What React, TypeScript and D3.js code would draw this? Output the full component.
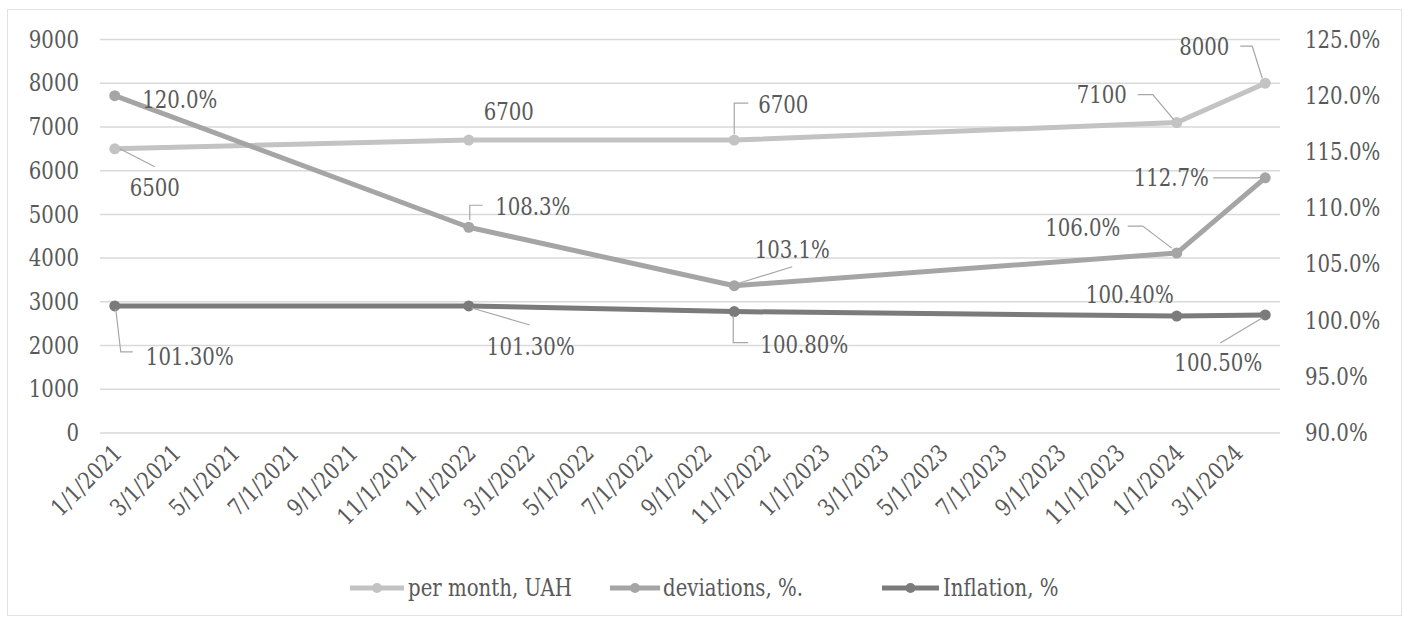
import React from "react";
import * as d3 from "d3";

// Observation dates (month/day/year)
const pointDates = ["1/1/2021", "1/1/2022", "10/1/2022", "1/1/2024", "4/1/2024"];
// Average salary per month, UAH (left axis)
const salary = [6500, 6700, 6700, 7100, 8000];
// Deviations, % (right axis)
const deviations = [120.0, 108.3, 103.1, 106.0, 112.7];
// Inflation, % (right axis)
const inflation = [101.3, 101.3, 100.8, 100.4, 100.5];

const salaryLabels = ["6500", "6700", "6700", "7100", "8000"];
const deviationLabels = ["120.0%", "108.3%", "103.1%", "106.0%", "112.7%"];
const inflationLabels = ["101.30%", "101.30%", "100.80%", "100.40%", "100.50%"];

const leftTicks = [0, 1000, 2000, 3000, 4000, 5000, 6000, 7000, 8000, 9000];
const rightTicks = [90, 95, 100, 105, 110, 115, 120, 125];
const xTickLabels = [
  "1/1/2021", "3/1/2021", "5/1/2021", "7/1/2021", "9/1/2021", "11/1/2021",
  "1/1/2022", "3/1/2022", "5/1/2022", "7/1/2022", "9/1/2022", "11/1/2022",
  "1/1/2023", "3/1/2023", "5/1/2023", "7/1/2023", "9/1/2023", "11/1/2023",
  "1/1/2024", "3/1/2024",
];
const seriesNames = ["per month, UAH", "deviations, %.", "Inflation, %"];

// Data label placement: text centre offset and leader polyline, relative to the point
type LabelPos = { dx: number; dy: number; leader?: [number, number][] };
const salaryLabelPos: LabelPos[] = [
  { dx: 40, dy: 39, leader: [[5, 0], [40, 18]] },
  { dx: 40, dy: -28 },
  { dx: 49, dy: -35, leader: [[0, -6], [0, -37], [14, -37]] },
  { dx: -75, dy: -28, leader: [[-39, -28], [-24, -28], [-3, -3]] },
  { dx: -61, dy: -36, leader: [[-25, -37], [-13, -37], [-3, -5]] },
];
const deviationLabelPos: LabelPos[] = [
  { dx: 65, dy: 4 },
  { dx: 64, dy: -20, leader: [[1, -7], [1, -22], [14, -22]] },
  { dx: 58, dy: -36, leader: [[3, -2], [58, -19]] },
  { dx: -94, dy: -25, leader: [[-49, -27], [-34, -27], [-5, -5]] },
  { dx: -94, dy: 0, leader: [[-52, 0], [-8, 0], [-3, -1]] },
];
const inflationLabelPos: LabelPos[] = [
  { dx: 75, dy: 51, leader: [[1, 3], [6, 46], [18, 46]] },
  { dx: 62, dy: 41, leader: [[3, 2], [61, 19]] },
  { dx: 70, dy: 33, leader: [[-1, 4], [-1, 31], [14, 31]] },
  { dx: -47, dy: -21 },
  { dx: -47, dy: 48, leader: [[-3, 3], [-45, 28]] },
];

const W = 1407;
const H = 619;
const plot = { left: 100, right: 1280, top: 39.5, bottom: 433 };
const FONT = '"DejaVu Serif", "Liberation Serif", serif';
const FS = 23.5;
const SX = 0.84; // horizontal condensing of the serif face
const TEXT = "#595959";
const colors = ["#c3c3c3", "#a5a5a5", "#7b7b7b"];

const parseDate = d3.timeParse("%m/%d/%Y");
const startMonth = parseDate("1/1/2021") as Date;
const endMonth = parseDate("5/1/2024") as Date;
const monthSlots = d3.timeMonth.range(startMonth, endMonth);

const x = d3
  .scaleBand<number>()
  .domain(monthSlots.map((d) => +d))
  .range([plot.left, plot.right])
  .padding(0);
const xc = (s: string) => {
  const d = d3.timeMonth.floor(parseDate(s) as Date);
  return (x(+d) as number) + x.bandwidth() / 2;
};
const yL = d3.scaleLinear().domain([0, 9000]).range([plot.bottom, plot.top]);
const yR = d3.scaleLinear().domain([90, 125]).range([plot.bottom, plot.top]);

type Series = {
  values: number[];
  labels: string[];
  pos: LabelPos[];
  y: (v: number) => number;
  color: string;
};
const series: Series[] = [
  { values: salary, labels: salaryLabels, pos: salaryLabelPos, y: (v) => yL(v), color: colors[0] },
  { values: deviations, labels: deviationLabels, pos: deviationLabelPos, y: (v) => yR(v), color: colors[1] },
  { values: inflation, labels: inflationLabels, pos: inflationLabelPos, y: (v) => yR(v), color: colors[2] },
];

const legendItems = [
  { line: [350, 404], textX: 408 },
  { line: [610, 660], textX: 663 },
  { line: [882, 939], textX: 943 },
];
const legendY = 588;

function Label(props: {
  x: number;
  y: number;
  anchor?: "start" | "middle" | "end";
  rotate?: number;
  children: React.ReactNode;
}) {
  const { x: tx, y: ty, anchor = "start", rotate = 0, children } = props;
  return (
    <text
      transform={`translate(${tx},${ty}) rotate(${rotate}) scale(${SX},1)`}
      textAnchor={anchor}
      dominantBaseline="central"
      fontSize={FS}
      fill={TEXT}
      style={{ fontFamily: FONT }}
    >
      {children}
    </text>
  );
}

export default function App() {
  return (
    <svg
      width={W}
      height={H}
      style={{ position: "absolute", left: 0, top: 0, background: "#fff", fontFamily: FONT }}
    >
      <rect x={7.5} y={9.5} width={1394} height={606} fill="#fff" stroke="#e3e3e3" />

      {/* gridlines */}
      {leftTicks.map((t) => (
        <line
          key={"g" + t}
          x1={plot.left}
          x2={plot.right}
          y1={yL(t)}
          y2={yL(t)}
          stroke="#d9d9d9"
          strokeWidth={1.5}
        />
      ))}

      {/* left axis */}
      {leftTicks.map((t) => (
        <Label key={"l" + t} x={79} y={yL(t)} anchor="end">
          {t}
        </Label>
      ))}

      {/* right axis */}
      {rightTicks.map((t) => (
        <Label key={"r" + t} x={1305} y={yR(t)} anchor="start">
          {d3.format(".1f")(t) + "%"}
        </Label>
      ))}

      {/* x axis labels */}
      {xTickLabels.map((s) => (
        <Label key={"x" + s} x={xc(s) + 3} y={449} anchor="end" rotate={-45}>
          {s}
        </Label>
      ))}

      {/* series lines and markers */}
      {series.map((sr, si) => {
        const pts = sr.values.map((v, i) => [xc(pointDates[i]), sr.y(v)] as [number, number]);
        const line = d3.line<[number, number]>()(pts) as string;
        return (
          <g key={"s" + si}>
            <path d={line} fill="none" stroke={sr.color} strokeWidth={5} strokeLinejoin="round" />
            {pts.map((p, i) => (
              <circle key={i} cx={p[0]} cy={p[1]} r={5.5} fill={sr.color} />
            ))}
          </g>
        );
      })}

      {/* data labels with leader lines */}
      {series.map((sr, si) =>
        sr.values.map((v, i) => {
          const px = xc(pointDates[i]);
          const py = sr.y(v);
          const p = sr.pos[i];
          return (
            <g key={`dl${si}-${i}`}>
              {p.leader && (
                <polyline
                  points={p.leader.map(([a, b]) => `${px + a},${py + b}`).join(" ")}
                  fill="none"
                  stroke="#a6a6a6"
                  strokeWidth={1.2}
                />
              )}
              <Label x={px + p.dx} y={py + p.dy} anchor="middle">
                {sr.labels[i]}
              </Label>
            </g>
          );
        })
      )}

      {/* legend */}
      {legendItems.map((it, i) => (
        <g key={"lg" + i}>
          <line
            x1={it.line[0]}
            x2={it.line[1]}
            y1={legendY}
            y2={legendY}
            stroke={colors[i]}
            strokeWidth={5}
          />
          <circle cx={(it.line[0] + it.line[1]) / 2} cy={legendY} r={5} fill={colors[i]} />
          <Label x={it.textX} y={legendY}>
            {seriesNames[i]}
          </Label>
        </g>
      ))}
    </svg>
  );
}
